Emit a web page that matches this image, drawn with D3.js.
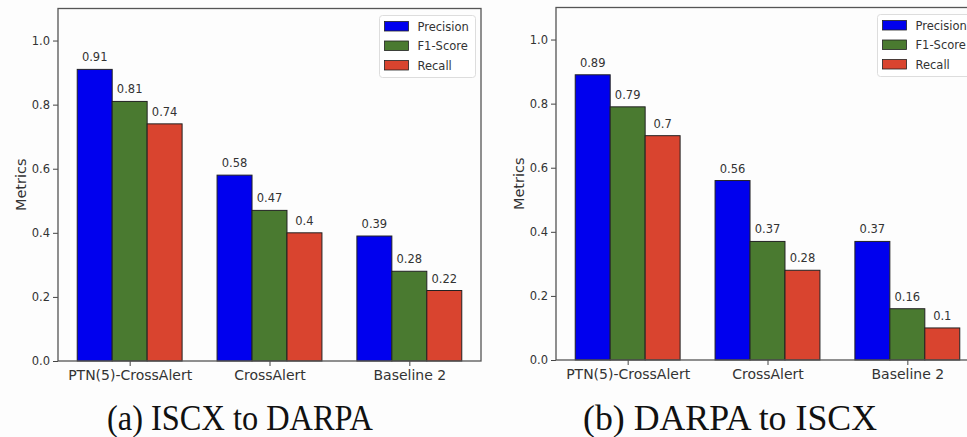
<!DOCTYPE html>
<html>
  <head>
    <meta charset="utf-8">
    <script src="https://cdn.jsdelivr.net/npm/d3@7"></script>
    <style>
      body { margin: 0; background: #fdfdfd; }
      text { font-family: "DejaVu Sans", sans-serif; fill: #333; }
      .caption { font-family: "Liberation Serif", "Times New Roman", serif; fill: #111; }
    </style>
  </head>
  <body>
    <script>
      // Chart data
      var categories = ["PTN(5)-CrossAlert", "CrossAlert", "Baseline 2"];
      var seriesNames = ["Precision", "F1-Score", "Recall"];
      var seriesColors = ["#0000ee", "#4a7a30", "#d9442f"];
      var yTicks = [0.0, 0.2, 0.4, 0.6, 0.8, 1.0];

      // (a) ISCX to DARPA
      var precisionA = [0.91, 0.58, 0.39];
      var f1A = [0.81, 0.47, 0.28];
      var recallA = [0.74, 0.40, 0.22];
      // (b) DARPA to ISCX
      var precisionB = [0.89, 0.56, 0.37];
      var f1B = [0.79, 0.37, 0.16];
      var recallB = [0.70, 0.28, 0.10];

      var width = 967, height = 437;
      var svg = d3.select("body").append("svg")
                  .attr("width", width)
                  .attr("height", height);

      // plot area size shared by both panels
      var plotW = 423, plotH = 352.5;

      function drawPanel(offX, offY, series, caption, capX, capLen) {
        var g = svg.append("g")
                   .attr("transform", "translate(" + offX + "," + offY + ")");

        var x = d3.scaleLinear().domain([-0.5125, 2.5125]).range([0, plotW]);
        var y = d3.scaleLinear().domain([0, 1.1]).range([plotH, 0]);
        var barW = x(0.25) - x(0);

        // bars
        series.forEach(function(vals, s) {
          g.selectAll(".bar" + s)
           .data(vals)
           .enter()
           .append("rect")
           .attr("x", function(d, i) { return x(i + (s - 1) * 0.25 - 0.125); })
           .attr("y", function(d) { return y(d); })
           .attr("width", barW)
           .attr("height", function(d) { return plotH - y(d); })
           .attr("fill", seriesColors[s])
           .attr("stroke", "#222")
           .attr("stroke-width", 1);

          g.selectAll(".lab" + s)
           .data(vals)
           .enter()
           .append("text")
           .attr("x", function(d, i) { return x(i + (s - 1) * 0.25); })
           .attr("y", function(d) { return y(d) - 8; })
           .attr("text-anchor", "middle")
           .style("font-size", "11.5px")
           .text(function(d) { return String(d); });
        });

        // y axis
        var yAxis = d3.axisLeft(y)
                      .tickValues(yTicks)
                      .tickFormat(d3.format(".1f"))
                      .tickSize(5)
                      .tickPadding(3);
        var ya = g.append("g").call(yAxis);
        ya.select(".domain").remove();
        ya.selectAll("line").attr("stroke", "#444");
        ya.selectAll("text").style("font-size", "11.5px").attr("fill", "#333");

        // x axis
        var xAxis = d3.axisBottom(x)
                      .tickValues([0, 1, 2])
                      .tickFormat(function(d) { return categories[d]; })
                      .tickSize(5)
                      .tickPadding(4);
        var xa = g.append("g")
                  .attr("transform", "translate(0," + plotH + ")")
                  .call(xAxis);
        xa.select(".domain").remove();
        xa.selectAll("line").attr("stroke", "#444");
        xa.selectAll("text").style("font-size", "14px").attr("fill", "#333");

        // frame
        g.append("rect")
         .attr("width", plotW)
         .attr("height", plotH)
         .attr("fill", "none")
         .attr("stroke", "#555")
         .attr("stroke-width", 1.3);

        // y label
        g.append("text")
         .attr("transform", "translate(-32," + (plotH / 2) + ") rotate(-90)")
         .attr("text-anchor", "middle")
         .style("font-size", "14.5px")
         .text("Metrics");

        // legend
        var lg = g.append("g").attr("transform", "translate(" + (plotW - 101.5) + ",7)");
        lg.append("rect")
          .attr("width", 96)
          .attr("height", 62)
          .attr("rx", 3)
          .attr("fill", "#fff")
          .attr("fill-opacity", 0.8)
          .attr("stroke", "#ddd");
        seriesNames.forEach(function(name, s) {
          lg.append("rect")
            .attr("x", 5)
            .attr("y", 6 + s * 19.5)
            .attr("width", 24)
            .attr("height", 9.5)
            .attr("fill", seriesColors[s])
            .attr("stroke", "#222")
            .attr("stroke-width", 0.8);
          lg.append("text")
            .attr("x", 38)
            .attr("y", 15 + s * 19.5)
            .style("font-size", "11.5px")
            .text(name);
        });

        // caption
        svg.append("text")
           .attr("class", "caption")
           .attr("x", capX - capLen / 2)
           .attr("y", 430)
           .attr("textLength", capLen)
           .attr("lengthAdjust", "spacingAndGlyphs")
           .style("font-size", "36px")
           .text(caption);
      }

      drawPanel(58, 8.5, [precisionA, f1A, recallA], "(a) ISCX to DARPA", 240, 266);
      drawPanel(556, 7.5, [precisionB, f1B, recallB], "(b) DARPA to ISCX", 730, 294);
    </script>
  </body>
</html>
